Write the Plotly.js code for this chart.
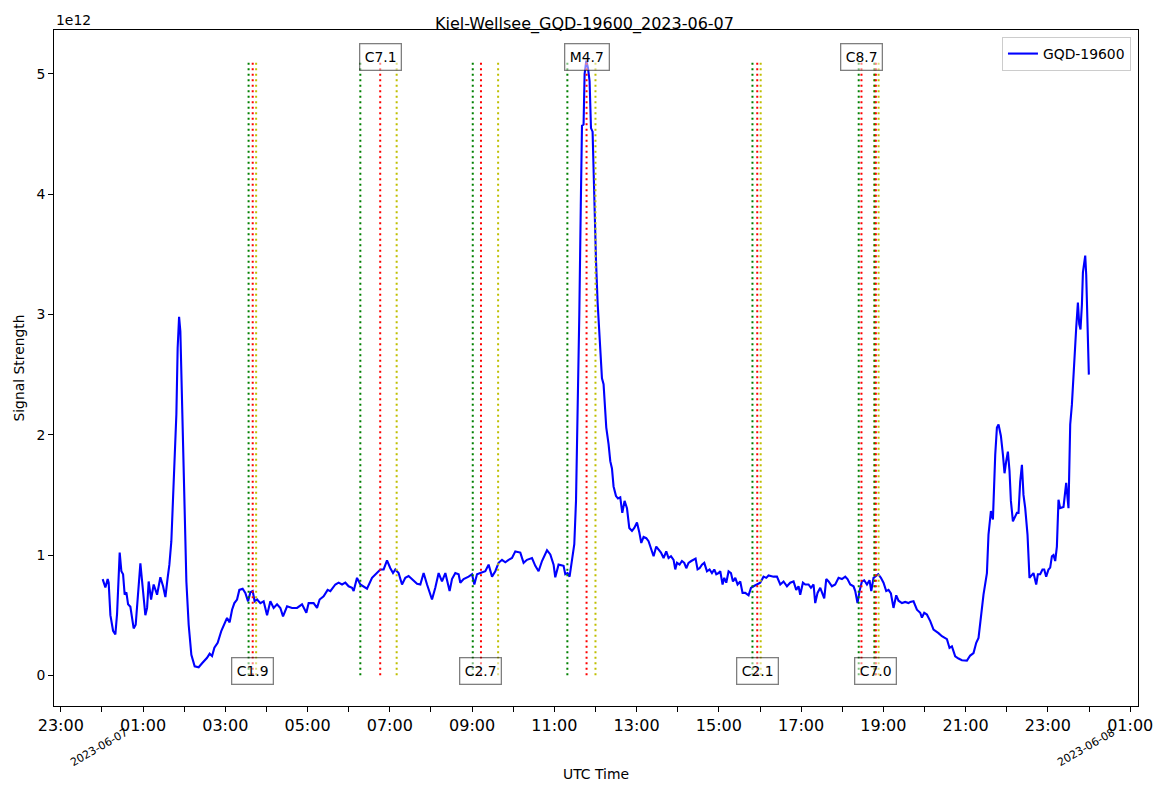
<!DOCTYPE html>
<html>
<head>
<meta charset="utf-8">
<script src="https://cdn.plot.ly/plotly-3.0.1.min.js"></script>
<style>
html,body{margin:0;padding:0;background:#fff;}
#chart{width:1169px;height:792px;}
</style>
</head>
<body>
<div id="chart"></div>
<script>
// ---- Data (hours after 2023-06-07 00:00 UTC, signal in units of 1e12) ----
const hoursUTC = [
  0.019,0.085,0.141,0.165,0.207,0.272,0.328,0.369,0.433,0.474,
  0.515,0.554,0.596,0.637,0.693,0.773,0.822,0.895,0.936,0.992,
  1.057,1.099,1.138,1.196,1.259,1.342,1.422,1.488,1.544,1.599,
  1.641,1.689,1.745,1.811,1.842,1.877,1.908,1.957,2.005,2.054,
  2.110,2.175,2.256,2.353,2.436,2.557,2.620,2.679,2.735,2.815,
  2.905,2.978,3.043,3.106,3.165,3.221,3.286,3.342,3.422,3.488,
  3.554,3.610,
  3.666,3.714,3.773,3.853,3.933,4.016,4.096,4.176,4.259,4.339,
  4.404,4.502,4.623,4.745,4.866,4.971,5.027,5.148,5.231,5.294,
  5.391,5.489,5.554,5.676,5.756,5.839,5.919,5.999,6.082,6.121,
  6.203,6.283,6.364,6.446,6.568,6.689,6.770,6.850,6.932,7.013,
  7.078,7.134,7.214,7.297,7.377,7.457,7.540,7.662,7.742,7.822,
  7.905,8.026,8.106,8.187,8.269,8.350,8.454,8.512,8.593,8.673,
  8.714,8.794,8.916,8.999,9.055,9.120,9.200,9.322,9.402,9.485,
  9.565,9.645,9.728,9.808,9.888,9.971,10.051,10.173,10.253,10.335,
  10.457,10.537,10.617,10.700,10.822,10.902,10.982,11.023,11.103,
  11.145,11.225,11.266,11.322,11.371,11.429,11.485,11.527,11.551,11.575,
  11.607,11.643,11.672,11.711,11.736,11.777,11.818,11.857,11.891,11.930,
  11.971,12.013,12.052,12.093,12.129,12.158,12.197,12.222,12.263,12.319,
  12.360,12.401,12.440,12.499,12.547,12.603,12.652,12.708,12.766,12.822,
  12.888,12.944,13.009,13.065,13.114,13.170,13.235,13.291,13.350,13.413,
  13.478,13.534,13.593,13.656,13.721,13.777,13.836,13.899,13.940,13.982,
  14.045,14.103,14.159,14.208,14.263,14.329,14.385,14.434,14.482,14.531,
  14.589,14.645,14.711,14.774,14.832,14.888,14.937,14.993,15.034,15.090,
  15.131,15.180,15.236,15.294,15.343,15.399,15.455,15.520,15.576,15.642,
  15.722,15.780,15.843,15.926,16.006,16.086,16.152,16.208,16.330,16.412,
  16.493,16.573,16.655,16.735,16.816,16.881,16.937,16.978,17.044,17.100,
  17.180,17.239,17.302,17.343,17.399,17.465,17.506,17.562,17.611,17.667,
  17.749,17.829,17.910,17.992,18.073,18.128,18.194,18.274,18.316,18.371,
  18.420,18.478,18.534,18.600,18.663,18.705,18.760,18.809,18.875,18.940,
  19.003,19.069,19.125,19.183,19.246,19.312,19.368,19.451,19.531,19.611,
  19.653,19.732,19.815,19.895,19.937,19.993,20.058,20.139,20.219,20.340,
  20.423,20.545,20.608,20.666,20.746,20.827,20.909,21.031,21.111,21.191,
  21.257,21.313,21.371,21.434,21.517,21.555,21.614,21.663,21.719,21.760,
  21.799,21.857,21.906,21.945,21.986,22.027,22.066,22.100,22.149,22.198,
  22.246,22.285,22.326,22.368,22.406,22.448,22.504,22.552,22.611,22.649,
  22.715,22.756,22.812,22.868,22.910,22.958,23.014,23.055,23.097,23.135,
  23.177,23.218,23.257,23.298,23.379,23.444,23.500,23.542,23.583,23.622,
  23.646,23.688,23.729,23.761,23.792,23.826,23.851,23.907,23.931,23.972,
  23.995
];
const signalE12 = [
  0.80,0.73,0.80,0.77,0.50,0.37,0.34,0.51,1.02,0.865,
  0.84,0.67,0.69,0.59,0.57,0.39,0.42,0.78,0.93,0.73,
  0.50,0.56,0.78,0.63,0.755,0.67,0.815,0.74,0.65,0.81,
  0.92,1.115,1.61,2.17,2.72,2.98,2.86,2.17,1.34,0.78,
  0.42,0.17,0.075,0.067,0.10,0.145,0.18,0.16,0.23,0.27,
  0.37,0.435,0.477,0.44,0.545,0.60,0.63,0.71,0.72,0.685,
  0.615,0.69,
  0.70,0.615,0.63,0.60,0.615,0.50,0.615,0.56,0.59,0.56,
  0.49,0.574,0.56,0.56,0.59,0.52,0.60,0.60,0.56,0.63,
  0.657,0.71,0.70,0.755,0.77,0.755,0.77,0.74,0.727,0.70,
  0.81,0.755,0.74,0.72,0.81,0.85,0.88,0.88,0.955,0.89,
  0.85,0.88,0.85,0.755,0.81,0.825,0.80,0.76,0.755,0.85,
  0.755,0.63,0.727,0.85,0.78,0.85,0.70,0.80,0.85,0.84,
  0.77,0.80,0.82,0.84,0.755,0.84,0.85,0.865,0.92,0.82,
  0.865,0.935,0.96,0.94,0.96,0.975,1.03,1.02,0.935,0.96,
  0.975,0.91,0.865,0.95,1.04,1.005,0.92,0.815,0.92,
  0.915,0.91,0.84,0.85,0.82,0.95,1.09,1.45,1.86,2.28,
  3.0,3.9,4.57,4.58,5.0,5.11,5.05,4.94,4.55,4.52,
  3.9,3.45,3.1,2.85,2.55,2.47,2.42,2.28,2.06,1.92,
  1.78,1.72,1.57,1.49,1.47,1.48,1.35,1.45,1.39,1.225,
  1.20,1.225,1.27,1.19,1.10,1.15,1.14,1.115,1.06,0.99,
  1.07,1.05,1.02,0.975,1.03,0.975,0.99,0.96,0.88,0.935,
  0.92,0.95,0.935,0.89,0.935,0.95,0.96,0.97,0.88,0.89,
  0.92,0.935,0.865,0.88,0.85,0.88,0.84,0.85,0.865,0.755,
  0.81,0.77,0.865,0.85,0.78,0.81,0.755,0.78,0.685,0.685,
  0.665,0.727,0.74,0.755,0.77,0.82,0.81,0.83,0.82,0.82,
  0.755,0.78,0.74,0.77,0.78,0.71,0.74,0.67,0.77,0.755,
  0.755,0.727,0.755,0.60,0.685,0.727,0.685,0.64,0.80,0.78,
  0.74,0.755,0.81,0.80,0.82,0.80,0.755,0.74,0.70,0.60,
  0.70,0.78,0.79,0.755,0.79,0.70,0.81,0.82,0.84,0.81,
  0.77,0.70,0.71,0.68,0.56,0.665,0.62,0.60,0.61,0.60,
  0.61,0.615,0.545,0.52,0.48,0.52,0.505,0.45,0.38,0.35,
  0.325,0.30,0.227,0.24,0.158,0.139,0.125,0.122,0.164,0.185,
  0.27,0.31,0.477,0.67,0.85,1.17,1.365,1.295,1.835,2.06,
  2.085,1.99,1.835,1.68,1.78,1.86,1.70,1.45,1.28,1.31,
  1.35,1.35,1.61,1.75,1.50,1.39,1.17,0.81,0.84,0.85,
  0.755,0.84,0.84,0.88,0.88,0.82,0.88,0.895,0.99,1.0,
  0.95,1.07,1.46,1.39,1.40,1.60,1.39,2.085,2.25,2.53,
  2.58,2.89,3.10,2.92,2.875,3.08,3.35,3.49,3.33,2.72,
  2.50
];

// Flare events (UTC, 2023-06-07)
const flareClass = ['C1.9','C7.1','C2.7','M4.7','C2.1','C8.7','C7.0'];
const flareStart = ['03:34','06:17','09:01','11:19','15:49','18:24','18:47'];
const flarePeak  = ['03:40','06:46','09:13','11:47','15:56','18:28','18:49'];
const flareEnd   = ['03:45','07:10','09:38','12:00','16:01','18:47','18:53'];

// Axis ticks (hours relative to 2023-06-07 00:00 UTC)
const tickHours = [-1,1,3,5,7,9,11,13,15,17,19,21,23,25];
const dateLabelHours = [0,24];
const dateLabels = ['2023-06-07','2023-06-08'];
const yTickValsE12 = [0,1,2,3,4,5];

// ---- Helpers ----
const BASE = Date.UTC(2023,5,7);
const iso = h => new Date(BASE + Math.round(h*3600000)).toISOString().slice(0,19).replace('T',' ');
const hm = s => { const p = s.split(':').map(Number); return p[0] + p[1]/60; };
const pad2 = n => String(n).padStart(2,'0');

const FONT = 'DejaVu Sans, Liberation Sans, sans-serif';
const yVals = signalE12.map(v => v*1e12);
const ymax = Math.max.apply(null, yVals);

const trace = {
  x: hoursUTC.map(iso),
  y: yVals,
  type: 'scatter',
  mode: 'lines',
  name: 'GQD-19600',
  line: {color: '#0000ff', width: 2.1}
};

const shapes = [];
const annotations = [];
const lineColors = ['#008000', '#ff0000', '#bfbf00'];
flareClass.forEach((cls, i) => {
  [flareStart[i], flarePeak[i], flareEnd[i]].forEach((t, k) => {
    const xv = iso(hm(t));
    shapes.push({
      type: 'line', xref: 'x', yref: 'y',
      x0: xv, x1: xv, y0: 0, y1: ymax,
      line: {color: lineColors[k], width: 2, dash: '2px,3.5px'},
      layer: 'above'
    });
  });
  annotations.push({
    x: iso(hm(flarePeak[i])), xref: 'x',
    y: (i % 2 === 1) ? ymax : 0, yref: 'y',
    text: cls, showarrow: false,
    xanchor: 'center', yanchor: 'middle', yshift: 4,
    font: {family: FONT, size: 13.9, color: '#000'},
    bgcolor: 'rgba(255,255,255,0.5)',
    bordercolor: 'rgba(0,0,0,0.5)', borderwidth: 1.3, borderpad: 4.5
  });
});

dateLabelHours.forEach((h, i) => {
  annotations.push({
    x: iso(h), xref: 'x', y: -0.025, yref: 'paper',
    text: dateLabels[i], showarrow: false, textangle: -30,
    xanchor: 'center', yanchor: 'top', xshift: -3,
    font: {family: FONT, size: 11, color: '#000'}
  });
});

annotations.push({
  x: 0, xref: 'paper', y: 1, yref: 'paper',
  text: '1e12', showarrow: false, xanchor: 'left', yanchor: 'bottom',
  font: {family: FONT, size: 13.9, color: '#000'}
});

const layout = {
  width: 1169, height: 792,
  margin: {l: 54, r: 31, t: 30, b: 86},
  paper_bgcolor: '#fff', plot_bgcolor: '#fff',
  font: {family: FONT, color: '#000'},
  title: {
    text: 'Kiel-Wellsee_GQD-19600_2023-06-07',
    xref: 'container', x: 0.5, xanchor: 'center',
    yref: 'container', y: 1 - 23/792, yanchor: 'middle',
    font: {family: FONT, size: 16, color: '#000'}
  },
  showlegend: true,
  legend: {
    x: 0.9935, y: 0.9896, xanchor: 'right', yanchor: 'top',
    bgcolor: '#fff', bordercolor: '#cccccc', borderwidth: 1,
    font: {family: FONT, size: 13.9, color: '#000'}
  },
  xaxis: {
    type: 'date',
    range: [iso(-1.164), iso(25.19)],
    tickmode: 'array',
    tickvals: tickHours.map(iso),
    ticktext: tickHours.map(h => pad2(((h % 24) + 24) % 24) + ':00'),
    ticks: 'outside', ticklen: 5, tickwidth: 1, tickcolor: '#000',
    minor: {ticks: 'outside', dtick: 3600000, tick0: iso(0), ticklen: 5, tickwidth: 1, tickcolor: '#000', showgrid: false},
    tickfont: {family: FONT, size: 16, color: '#000'},
    showline: true, mirror: true, linecolor: '#000', linewidth: 1,
    showgrid: false, zeroline: false, automargin: false,
    title: {text: 'UTC Time', font: {family: FONT, size: 13.9, color: '#000'}, standoff: 35}
  },
  yaxis: {
    range: [-0.2555e12, 5.3655e12],
    tickmode: 'array',
    tickvals: yTickValsE12.map(v => v*1e12),
    ticktext: yTickValsE12.map(String),
    ticks: 'outside', ticklen: 5, tickwidth: 1, tickcolor: '#000',
    tickfont: {family: FONT, size: 13.9, color: '#000'},
    showline: true, mirror: true, linecolor: '#000', linewidth: 1,
    showgrid: false, zeroline: false, automargin: false,
    title: {text: 'Signal Strength', font: {family: FONT, size: 13.9, color: '#000'}, standoff: 8}
  },
  shapes: shapes,
  annotations: annotations
};

Plotly.newPlot('chart', [trace], layout, {displayModeBar: false, responsive: false});
</script>
</body>
</html>
